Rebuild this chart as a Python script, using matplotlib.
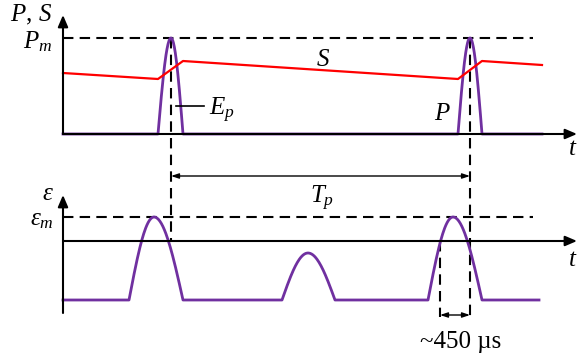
import numpy as np
import matplotlib
matplotlib.use("Agg")
import matplotlib.pyplot as plt

plt.rcParams['mathtext.fontset'] = 'custom'
plt.rcParams['mathtext.rm'] = 'Liberation Serif'
plt.rcParams['mathtext.it'] = 'Liberation Serif:italic'
plt.rcParams['lines.scale_dashes'] = False

PURPLE = '#7030A0'
RED = '#FF0000'

# ---- diagram data (diagram units, y grows downward) ----
# top panel: power P and S
top_axis_y = 134
top_axis_x = [63, 577]
top_axis_top = 15
P_base = 134
P_m = 38
P_start = [158, 458]
P_peak = [171, 470]
P_end = [183, 482]
P_line_end = 542
S_t = [63, 158, 183, 458, 482, 542]
S_v = [73, 79, 61, 79, 61, 65]

# bottom panel: strain epsilon
bot_axis_y = 241
bot_axis_top = 195
bot_axis_bottom = 313
eps_base = 300
eps_m = 217
eps_start = [129, 282, 428]
eps_peak = [154, 308, 453]
eps_end = [183, 335, 482]
eps_peak_v = [217, 253, 217]
eps_line_end = 539

dash_end = 533
Tp_y = 176
d450_x = 440
d450_y = 315


def pulse_curve(x0, xp, x1, base, peak):
    u1 = np.linspace(0, 1, 40)
    xa = x0 + (xp - x0) * u1
    ya = base + (peak - base) * np.sin(np.pi / 2 * u1)
    xb = xp + (x1 - xp) * u1
    yb = base + (peak - base) * np.cos(np.pi / 2 * u1)
    return xa, ya, xb, yb


fig = plt.figure(figsize=(5.79, 3.6), dpi=100)
ax = fig.add_axes([0, 0, 1, 1])
ax.set_xlim(0, 579)
ax.set_ylim(360, 0)
ax.axis('off')

K = 'black'
lw_ax = 1.5
dash = (0, (7.5, 4.5))

def arrow_axis(x0, y0, x1, y1):
    ax.annotate('', xy=(x1, y1), xytext=(x0, y0),
                arrowprops=dict(arrowstyle='-|>,head_length=0.7,head_width=0.3',
                                color=K, lw=lw_ax, shrinkA=0, shrinkB=0))

arrow_axis(top_axis_x[0], top_axis_y, top_axis_x[1], top_axis_y)
arrow_axis(top_axis_x[0], top_axis_y, top_axis_x[0], top_axis_top)
arrow_axis(top_axis_x[0], bot_axis_y, top_axis_x[1], bot_axis_y)
arrow_axis(top_axis_x[0], bot_axis_bottom, top_axis_x[0], bot_axis_top)

# dashed reference lines
ax.plot([top_axis_x[0], dash_end], [P_m, P_m], color=K, lw=lw_ax, linestyle=dash)
ax.plot([top_axis_x[0], dash_end], [eps_m, eps_m], color=K, lw=lw_ax, linestyle=dash)
ax.plot([P_peak[0], P_peak[0]], [P_m, bot_axis_y + 1], color=K, lw=lw_ax, linestyle=dash)
ax.plot([P_peak[1], P_peak[1]], [P_m, d450_y + 2], color=K, lw=lw_ax, linestyle=dash)
ax.plot([d450_x, d450_x], [bot_axis_y, d450_y + 2], color=K, lw=lw_ax, linestyle=dash)

# P pulses
xs = [top_axis_x[0]]
ys = [P_base]
for a, p, b in zip(P_start, P_peak, P_end):
    xa, ya, xb, yb = pulse_curve(a, p, b, P_base, P_m)
    xs += list(xa) + list(xb)
    ys += list(ya) + list(yb)
xs.append(P_line_end)
ys.append(P_base)
ax.plot(xs, ys, color=PURPLE, lw=2.0, solid_joinstyle='round')

# S line
ax.plot(S_t, S_v, color=RED, lw=1.6)

# epsilon
xs = [top_axis_x[0]]
ys = [eps_base]
for a, p, b, pv in zip(eps_start, eps_peak, eps_end, eps_peak_v):
    xa, ya, xb, yb = pulse_curve(a, p, b, eps_base, pv)
    xs += list(xa) + list(xb)
    ys += list(ya) + list(yb)
xs.append(eps_line_end)
ys.append(eps_base)
ax.plot(xs, ys, color=PURPLE, lw=2.0, solid_joinstyle='round')

# Tp arrow
ax.annotate('', xy=(P_peak[1], Tp_y), xytext=(P_peak[0], Tp_y),
            arrowprops=dict(arrowstyle='<|-|>,head_length=0.45,head_width=0.15',
                            color=K, lw=1.0, shrinkA=0, shrinkB=0))
# 450 us arrow
ax.annotate('', xy=(P_peak[1], d450_y), xytext=(d450_x, d450_y),
            arrowprops=dict(arrowstyle='<|-|>,head_length=0.45,head_width=0.15',
                            color=K, lw=1.0, shrinkA=0, shrinkB=0))

# Ep leader
ax.plot([176, 204], [106, 106], color=K, lw=1.2)

fs = 18
def t(x, y, s, **kw):
    ax.text(x, y, s, fontsize=fs, ha='center', va='center', **kw)

t(31, 15, r'$P,\, S$')
t(38, 42, r'$P_m$')
t(222, 110, r'$E_p$')
t(323, 59, r'$S$')
t(442, 113, r'$P$')
t(573, 148, r'$t$')
t(573, 259, r'$t$')
t(322, 198, r'$T_p$')
t(48, 193, r'$\varepsilon$')
t(42, 219, r'$\varepsilon_m$')
ax.text(461, 342, '~450 µs', fontsize=fs, ha='center', va='center',
        family='Liberation Serif')

fig.savefig('out.png', dpi=100)
